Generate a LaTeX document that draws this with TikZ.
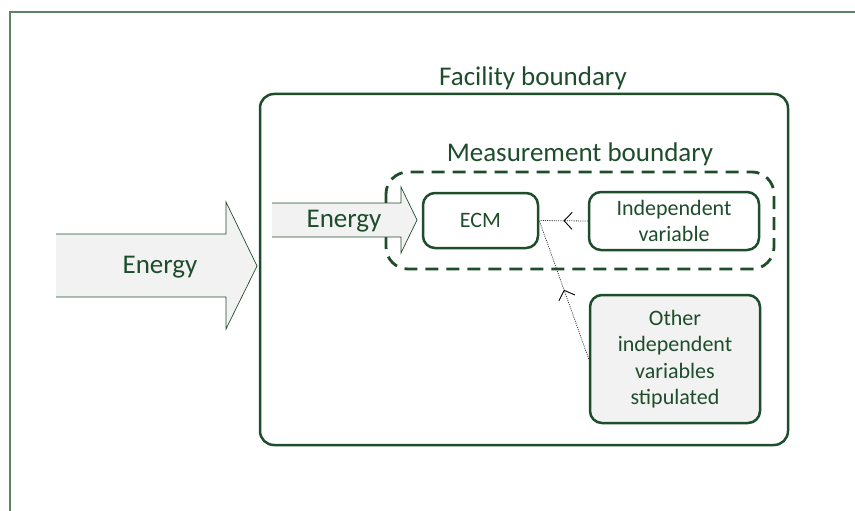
\documentclass[tikz,border=0pt]{standalone}
\usepackage{fontspec}
\setmainfont{Carlito}
\usetikzlibrary{arrows.meta,decorations.markings}
\definecolor{dg}{HTML}{1E4D2B}
\definecolor{framecol}{HTML}{5E8266}
\definecolor{lg}{HTML}{F2F2F2}
\tikzset{
  box/.style={draw=dg, line width=2.5pt, rounded corners=12pt, text=dg, align=center, inner sep=0pt},
  bigtext/.style={text=dg, font=\fontsize{27}{32}\selectfont, inner sep=0pt},
  boxtext/.style={font=\fontsize{22}{26.5}\selectfont},
  dotline/.style={draw=black!80, line width=0.8pt, dash pattern=on 1pt off 1.2pt,
    postaction={decorate},
    decoration={markings, mark=at position 0.5 with {\arrow[black, line width=0.9pt]{Straight Barb[length=8pt,width=17pt]}}}},
}
\begin{document}
\begin{tikzpicture}[x=1pt,y=-1pt]
\useasboundingbox (0,0) rectangle (855,511);
% outer frame
\draw[framecol, line width=2pt] (10,511) -- (10,12) -- (855,12);
% facility boundary
\draw[dg, line width=2.5pt, rounded corners=14pt] (260,94) rectangle (788,445);
\node[bigtext] (fac) at (533,78) {Facility boundary};
% measurement boundary
\draw[dg, line width=2.8pt, rounded corners=22pt, dash pattern=on 13pt off 8pt] (386,172) rectangle (774,269);
\node[bigtext] (meas) at (580,154) {Measurement boundary};
% big arrow
\fill[lg] (56,234) -- (226,234) -- (226,202) -- (257,266) -- (226,329) -- (226,297) -- (56,297) -- cycle;
\draw[dg, line width=0.7pt] (56,234) -- (226,234) -- (226,202) -- (257,266) -- (226,329) -- (226,297) -- (56,297);
\node[bigtext] (e1) at (160,267) {Energy};
% small arrow
\fill[lg] (272,203) -- (401,203) -- (401,187) -- (417,220) -- (401,253) -- (401,237) -- (272,237) -- cycle;
\draw[dg, line width=0.7pt] (272,203) -- (401,203) -- (401,187) -- (417,220) -- (401,253) -- (401,237) -- (272,237);
\node[bigtext] (e2) at (344,221) {Energy};
% boxes
\node[box, boxtext, minimum width=115pt, minimum height=55pt] (ecm) at (480.5,220.5) {ECM};
\node[box, boxtext, minimum width=170pt, minimum height=58pt] (indep) at (674,221) {Independent\\variable};
\node[box, boxtext, fill=lg, minimum width=170pt, minimum height=128pt] (other) at (675,359) {Other\\independent\\variables\\stipulated};
% connectors
\draw[dotline] (indep.west) -- (ecm.east);
\draw[dotline] (other.west) -- (ecm.east);
\end{tikzpicture}
\end{document}
